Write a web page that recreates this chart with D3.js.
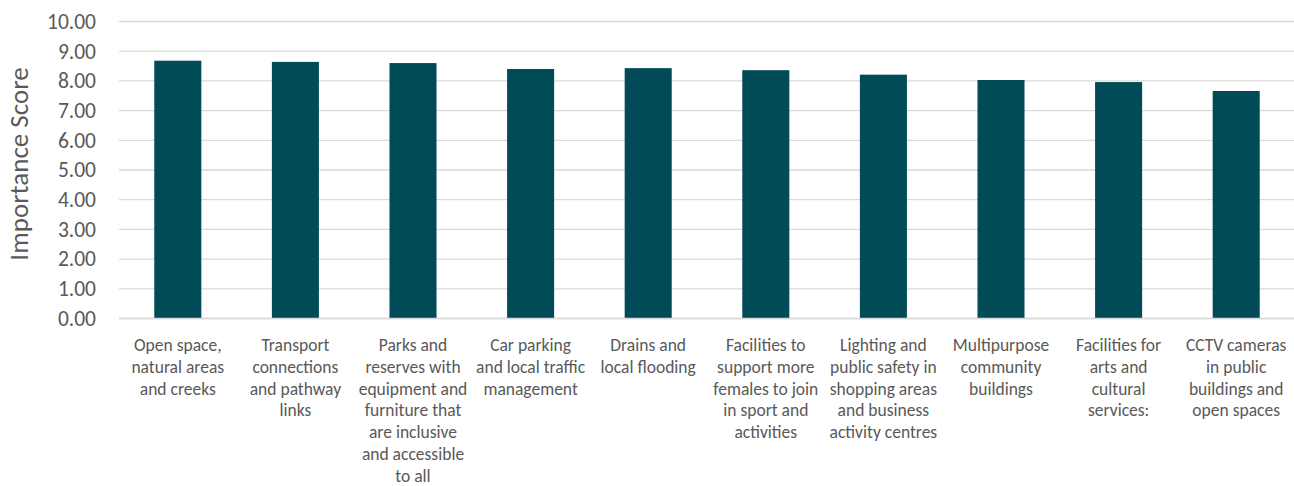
<!DOCTYPE html>
<html><head><meta charset="utf-8">
<script src="https://cdn.jsdelivr.net/npm/d3@7"></script>
<style>body{margin:0;background:#fff}svg{display:block}</style>
</head><body>
<svg id="c" width="1294" height="486"></svg>
<script>
const categories = [
  "Open space,\nnatural areas\nand creeks",
  "Transport\nconnections\nand pathway\nlinks",
  "Parks and\nreserves with\nequipment and\nfurniture that\nare inclusive\nand accessible\nto all",
  "Car parking\nand local traffic\nmanagement",
  "Drains and\nlocal flooding",
  "Facilities to\nsupport more\nfemales to join\nin sport and\nactivities",
  "Lighting and\npublic safety in\nshopping areas\nand business\nactivity centres",
  "Multipurpose\ncommunity\nbuildings",
  "Facilities for\narts and\ncultural\nservices:",
  "CCTV cameras\nin public\nbuildings and\nopen spaces"
];
const values = [8.68, 8.64, 8.60, 8.40, 8.43, 8.36, 8.21, 8.03, 7.96, 7.66];
const yTicks = [0,1,2,3,4,5,6,7,8,9,10];
const yTitle = "Importance Score";

const svg = d3.select("#c");
const font = "Calibri, Carlito, Lato, sans-serif";
const mLeft = 119, mRight = 1295, mTop = 21.5, mBottom = 318.5;
const x = d3.scaleBand().domain(d3.range(categories.length)).range([mLeft, mRight]).paddingInner(0.6).paddingOuter(0.3);
const y = d3.scaleLinear().domain([0, 10]).range([mBottom, mTop]);

svg.append("g").selectAll("line").data(yTicks).join("line")
  .attr("x1", mLeft).attr("x2", mRight)
  .attr("y1", d => y(d)).attr("y2", d => y(d))
  .attr("stroke", "#d9d9d9").attr("stroke-width", 1.3);

const yAxis = svg.append("g").attr("transform", `translate(${mLeft},0)`)
  .call(d3.axisLeft(y).tickValues(yTicks).tickFormat(d3.format(".2f")).tickSize(0).tickPadding(23));
yAxis.select(".domain").remove();
yAxis.selectAll("text").attr("font-family", font).attr("font-size", 21.5).attr("fill", "#595959");

svg.append("g").selectAll("rect").data(values).join("rect")
  .attr("x", (d,i) => x(i)).attr("width", x.bandwidth())
  .attr("y", d => y(d)).attr("height", d => y(0) - y(d))
  .attr("fill", "#004B57");

svg.append("line").attr("x1", mLeft).attr("x2", mRight).attr("y1", y(0)).attr("y2", y(0))
  .attr("stroke", "#d9d9d9").attr("stroke-width", 1.5);

const xl = svg.append("g");
categories.forEach((c, i) => {
  const t = xl.append("text").attr("text-anchor", "middle")
    .attr("font-family", font).attr("font-size", 17.5).attr("fill", "#595959");
  c.split("\n").forEach((ln, j) => {
    t.append("tspan").attr("x", x(i) + x.bandwidth()/2).attr("y", 351 + j*21.8).text(ln);
  });
});

svg.append("text").attr("transform", `translate(28,${164}) rotate(-90)`)
  .attr("text-anchor", "middle").attr("font-family", font).attr("font-size", 27)
  .attr("fill", "#595959").text(yTitle);
</script>
</body></html>
